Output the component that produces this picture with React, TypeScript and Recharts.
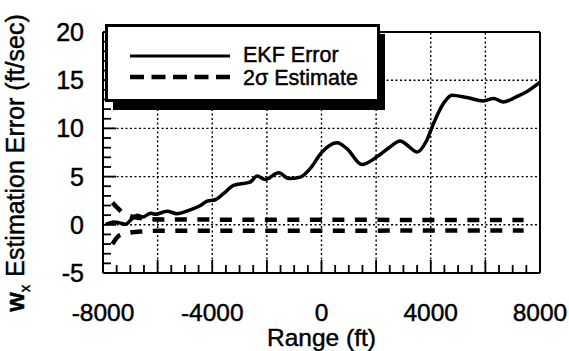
import React from "react";
import { Legend, Line, LineChart, ReferenceLine, XAxis, YAxis } from "recharts";

const FONT = "'Liberation Sans', Arial, Helvetica, sans-serif";

// Range (ft) vs EKF estimation error (ft/sec)
const ekfRange = [
  -7900, -7600, -7400, -7180, -6950, -6750, -6550, -6250, -6080, -5650, -5290, -4860, -4430, -4190,
  -3890, -3580, -3220, -2730, -2600, -2360, -2060, -1570, -1200, -780, -410, 20, 570, 930, 1480,
  2030, 2520, 2880, 3250, 3490, 3860, 4100, 4470, 4770, 5320, 5930, 6300, 6660, 7150, 7510, 8000,
];
const ekfError = [
  0.05, 0.3, 0.2, 0.05, 0.6, 1.0, 0.8, 1.2, 1.1, 1.4, 1.15, 1.5, 2.0, 2.45,
  2.6, 3.25, 4.1, 4.35, 4.45, 5.05, 4.7, 5.4, 4.8, 4.95, 5.85, 7.55, 8.5, 7.9, 6.25,
  7.05, 8.1, 8.7, 8.0, 7.55, 8.8, 10.5, 12.6, 13.45, 13.2, 12.85, 13.1, 12.75, 13.3, 13.8, 14.8,
];

// 2-sigma envelope
const sigmaRange = [-7650, -7450, -7250, -7000, -6500, -6000, 7400];
const sigmaUpper = [2.3, 1.7, 1.2, 0.9, 0.65, 0.55, 0.5];
const sigmaLower = [-2.0, -1.2, -0.95, -0.8, -0.68, -0.62, -0.6];

const rangeTicks = [
  -8000, -7500, -7000, -6500, -6000, -5500, -5000, -4500, -4000, -3500, -3000, -2500, -2000, -1500,
  -1000, -500, 0, 500, 1000, 1500, 2000, 2500, 3000, 3500, 4000, 4500, 5000, 5500, 6000, 6500, 7000,
  7500, 8000,
];
const rangeLabels = [-8000, -4000, 0, 4000, 8000];
const rangeGrid = [-6000, -4000, -2000, 0, 2000, 4000, 6000];

const errorTicks = [
  -5, -4, -3, -2, -1, 0, 1, 2, 3, 4, 5, 6, 7, 8, 9, 10, 11, 12, 13, 14, 15, 16, 17, 18, 19, 20,
];
const errorLabels = [-5, 0, 5, 10, 15, 20];
const errorGrid = [0, 5, 10, 15];

const ekfData = ekfRange.map((r, i) => ({ range: r, value: ekfError[i] }));
const upperData = sigmaRange.map((r, i) => ({ range: r, value: sigmaUpper[i] }));
const lowerData = sigmaRange.map((r, i) => ({ range: r, value: sigmaLower[i] }));

const MINOR = 8;
const MAJOR = 13;

// heavier glyphs, like the old Helvetica print
const ink = { fill: "#000", stroke: "#000", strokeWidth: 0.45, fontFamily: FONT };

function BottomTick({ x, y, payload }: any) {
  const v = payload.value;
  const len = v % 2000 === 0 ? MAJOR : MINOR;
  return (
    <g>
      <line x1={x} x2={x} y1={y} y2={y - len} stroke="#000" strokeWidth={1.8} />
      {rangeLabels.includes(v) && (
        <text x={x} y={y + 48} textAnchor="middle" fontSize={24.5} {...ink}>
          {v}
        </text>
      )}
    </g>
  );
}

function TopTick({ x, y, payload }: any) {
  const len = payload.value % 2000 === 0 ? MAJOR : MINOR;
  return <line x1={x} x2={x} y1={y} y2={y + len} stroke="#000" strokeWidth={1.8} />;
}

function LeftTick({ x, y, payload }: any) {
  const v = payload.value;
  const len = v % 5 === 0 ? MAJOR : MINOR;
  return (
    <g>
      <line x1={x} x2={x + len} y1={y} y2={y} stroke="#000" strokeWidth={1.8} />
      {errorLabels.includes(v) && (
        <text x={x - 19} y={y + 9} textAnchor="end" fontSize={25} {...ink}>
          {v}
        </text>
      )}
    </g>
  );
}

function RightTick({ x, y, payload }: any) {
  const len = payload.value % 5 === 0 ? MAJOR : MINOR;
  return <line x1={x} x2={x - len} y1={y} y2={y} stroke="#000" strokeWidth={1.8} />;
}

function ErrorTitle() {
  const cx = 24;
  const cy = 163;
  return (
    <text
      x={cx}
      y={cy}
      transform={`rotate(-90 ${cx} ${cy})`}
      textAnchor="middle"
      fontSize={25}
      {...ink}
    >
      <tspan fontWeight="bold">w</tspan>
      <tspan fontSize={15} dy={6}>x</tspan>
      <tspan dy={-6} dx={8}>Estimation Error (ft/sec)</tspan>
    </text>
  );
}

function RangeTitle({ viewBox }: any) {
  const cx = viewBox.x + viewBox.width / 2;
  return (
    <text x={cx} y={346} textAnchor="middle" fontSize={24.5} {...ink}>
      Range (ft)
    </text>
  );
}

function LegendBox() {
  return (
    <svg width={292} height={96} style={{ display: "block" }}>
      <rect x={8} y={10} width={272} height={76} fill="#000" />
      <rect x={1.5} y={1.5} width={272} height={75} fill="#fff" stroke="#000" strokeWidth={3} />
      <line x1={25} x2={125} y1={32} y2={32} stroke="#000" strokeWidth={3} />
      <line x1={25} x2={125} y1={53} y2={53} stroke="#000" strokeWidth={4.5} strokeDasharray="14 7.5" />
      <text x={138} y={38} fontSize={21.5} {...ink}>
        EKF Error
      </text>
      <text x={138} y={61} fontSize={21.5} {...ink}>
        2σ Estimate
      </text>
    </svg>
  );
}

const axisLine = { stroke: "#000", strokeWidth: 2 };
const gridStyle = { stroke: "#000", strokeWidth: 1.4, strokeDasharray: "2 2.5" };

export default function App() {
  return (
    <div style={{ position: "absolute", left: 0, top: 0, background: "#fff" }}>
      <LineChart width={569} height={351} margin={{ top: 0, right: 0, bottom: 0, left: 0 }}>
        <XAxis
          xAxisId="bottom"
          dataKey="range"
          type="number"
          domain={[-8000, 8000]}
          ticks={rangeTicks}
          interval={0}
          height={78}
          tickSize={0}
          tickMargin={0}
          tickLine={false}
          axisLine={axisLine}
          tick={<BottomTick />}
          label={<RangeTitle />}
        />
        <XAxis
          xAxisId="top"
          orientation="top"
          dataKey="range"
          type="number"
          domain={[-8000, 8000]}
          ticks={rangeTicks}
          interval={0}
          height={32}
          tickSize={0}
          tickMargin={0}
          tickLine={false}
          axisLine={axisLine}
          tick={<TopTick />}
        />
        <YAxis
          yAxisId="left"
          type="number"
          domain={[-5, 20]}
          ticks={errorTicks}
          interval={0}
          width={103}
          tickSize={0}
          tickMargin={0}
          tickLine={false}
          axisLine={axisLine}
          tick={<LeftTick />}
          label={<ErrorTitle />}
        />
        <YAxis
          yAxisId="right"
          orientation="right"
          type="number"
          domain={[-5, 20]}
          ticks={errorTicks}
          interval={0}
          width={29}
          tickSize={0}
          tickMargin={0}
          tickLine={false}
          axisLine={axisLine}
          tick={<RightTick />}
        />
        {rangeGrid.map((r) => (
          <ReferenceLine key={`v${r}`} x={r} xAxisId="bottom" yAxisId="left" {...gridStyle} />
        ))}
        {errorGrid.map((e) => (
          <ReferenceLine key={`h${e}`} y={e} xAxisId="bottom" yAxisId="left" {...gridStyle} />
        ))}
        <Line
          data={upperData}
          dataKey="value"
          xAxisId="bottom"
          yAxisId="left"
          type="monotone"
          stroke="#000"
          strokeWidth={4.5}
          strokeDasharray="12 10.5"
          dot={false}
          activeDot={false}
          isAnimationActive={false}
        />
        <Line
          data={lowerData}
          dataKey="value"
          xAxisId="bottom"
          yAxisId="left"
          type="monotone"
          stroke="#000"
          strokeWidth={4.5}
          strokeDasharray="12 10.5"
          dot={false}
          activeDot={false}
          isAnimationActive={false}
        />
        <Line
          data={ekfData}
          dataKey="value"
          xAxisId="bottom"
          yAxisId="left"
          type="monotone"
          stroke="#000"
          strokeWidth={3.5}
          dot={false}
          activeDot={false}
          isAnimationActive={false}
        />
        <Legend
          layout="horizontal"
          verticalAlign="middle"
          align="center"
          content={<LegendBox />}
          wrapperStyle={{ position: "absolute", left: 105, top: 24, width: 292, height: 96 }}
        />
      </LineChart>
    </div>
  );
}
